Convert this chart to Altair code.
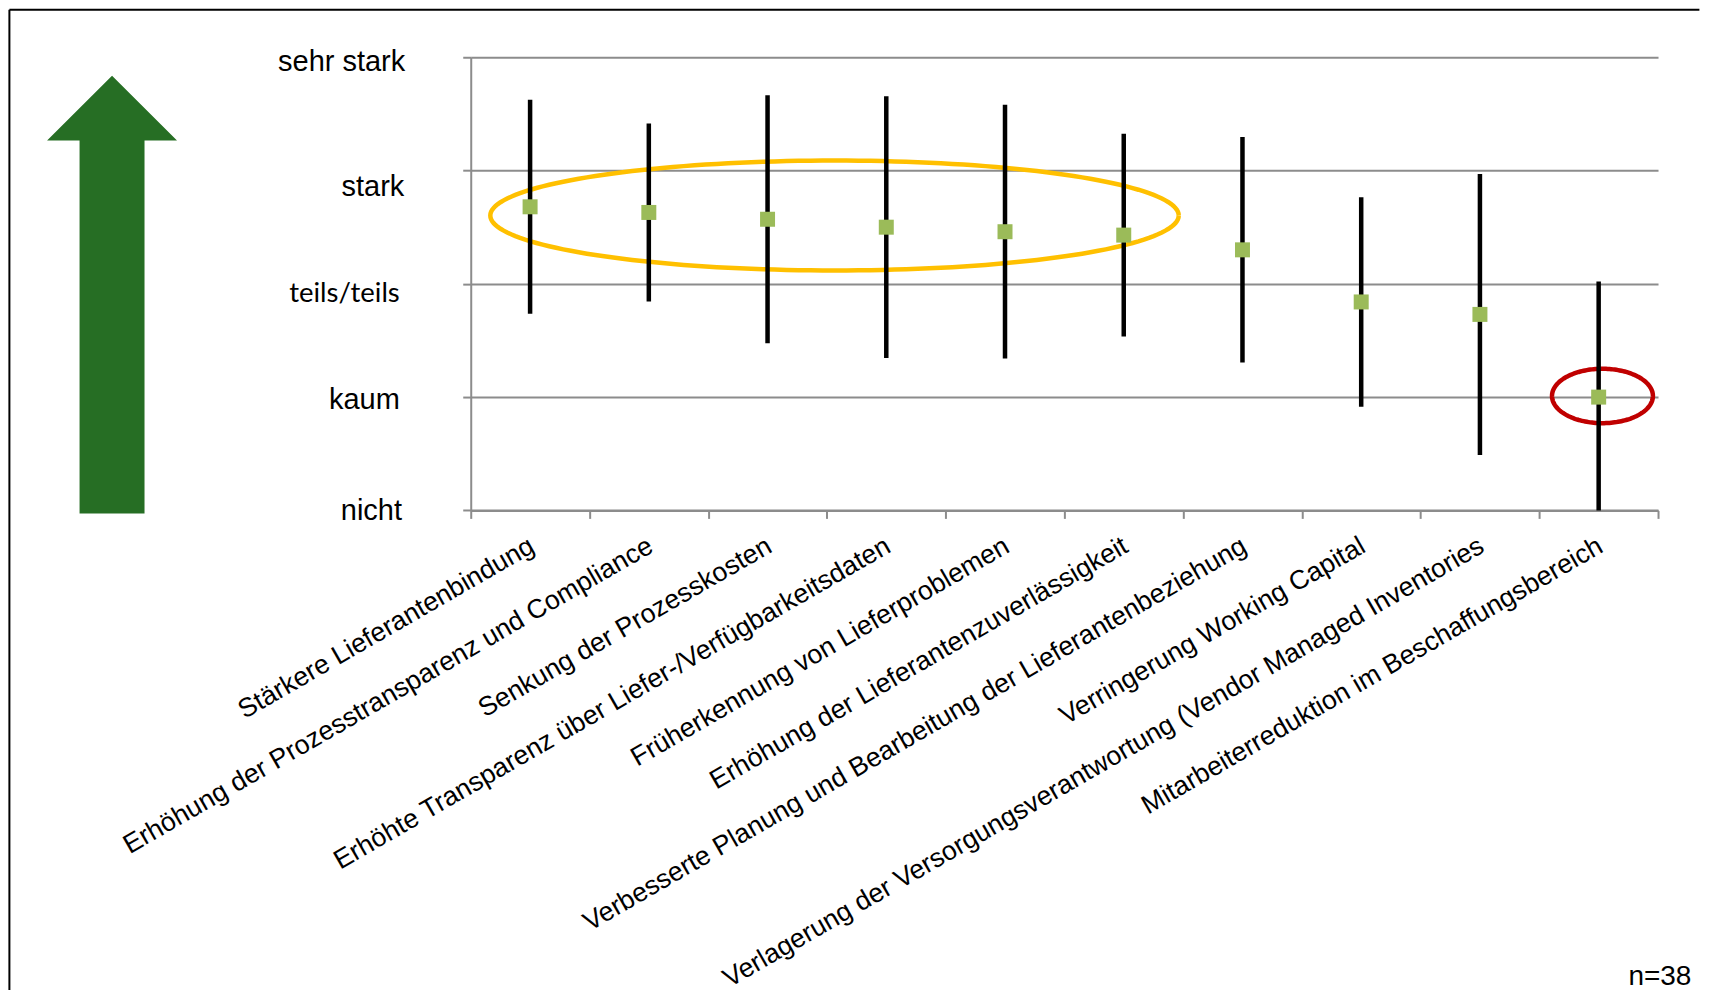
import altair as alt
import pandas as pd

# ---------------- data ----------------
categories = [
    "Stärkere Lieferantenbindung",
    "Erhöhung der Prozesstransparenz und Compliance",
    "Senkung der Prozesskosten",
    "Erhöhte Transparenz über Liefer-/Verfügbarkeitsdaten",
    "Früherkennung von Lieferproblemen",
    "Erhöhung der Lieferantenzuverlässigkeit",
    "Verbesserte Planung und Bearbeitung der Lieferantenbeziehung",
    "Verringerung Working Capital",
    "Verlagerung der Versorgungsverantwortung (Vendor Managed Inventories",
    "Mitarbeiterreduktion im Beschaffungsbereich",
]
means = [3.68, 3.63, 3.57, 3.50, 3.46, 3.43, 3.30, 2.84, 2.73, 2.00]
sds = [0.945, 0.785, 1.095, 1.155, 1.12, 0.895, 0.995, 0.925, 1.24, 1.02]

level_values = [1, 2, 3, 4, 5]
level_labels = ["nicht", "kaum", "teils/teils", "stark", "sehr stark"]
sample_note = "n=38"

df = pd.DataFrame({"kategorie": categories, "mittel": means, "sd": sds})
df["unten"] = df["mittel"] - df["sd"]
df["oben"] = df["mittel"] + df["sd"]

# annotation ellipses (in band units / scale values)
ellipses = [
    dict(cx=3.064, cy=3.603, rx=2.899, ry=0.485, color="#FFC000"),
    dict(cx=9.532, cy=2.01, rx=0.425, ry=0.24, color="#C00000"),
]

# ---------------- layout ----------------
W, H = 1188, 453.4
GRID = "#8C8C8C"
FONT = "Liberation Sans"

label_js = "[''," + ",".join("'%s'" % s for s in level_labels) + "][datum.value]"

y_scale = alt.Scale(domain=[1, 5], nice=False, zero=False, clamp=True)

x_enc = alt.X(
    "kategorie:N",
    sort=categories,
    scale=alt.Scale(type="band", paddingInner=0, paddingOuter=0),
    axis=alt.Axis(
        title=None,
        tickBand="extent",
        ticks=True,
        tickSize=8,
        tickColor=GRID,
        tickWidth=2,
        domainColor=GRID,
        domainWidth=2,
        labelAngle=-30,
        labelFont=FONT,
        labelFontSize=26.7,
        labelColor="black",
        labelLimit=1000,
        labelOverlap=False,
        labelPadding=14,
        labelOffset=-5,
        grid=False,
    ),
)

y_axis = alt.Axis(
    title=None,
    values=level_values,
    labelExpr=label_js,
    grid=True,
    gridColor=GRID,
    gridWidth=2,
    domainColor=GRID,
    domainWidth=2,
    tickColor=GRID,
    tickWidth=2,
    tickSize=8,
    labelColor="black",
    labelFont={"condition": {"test": "datum.value == 3", "value": "Lato"}, "value": FONT},
    labelFontSize={"condition": {"test": "datum.value == 3", "value": 27.5}, "value": 29},
    labelPadding={
        "condition": [
            {"test": "datum.value == 5", "value": 58},
            {"test": "datum.value == 4", "value": 59},
            {"test": "datum.value == 3", "value": 63.5},
            {"test": "datum.value == 2", "value": 63.5},
        ],
        "value": 61.3,
    },
    labelOffset={
        "condition": [
            {"test": "datum.value == 5", "value": 4},
            {"test": "datum.value == 4", "value": 16},
            {"test": "datum.value == 3", "value": 10},
            {"test": "datum.value == 2", "value": 2},
        ],
        "value": 0,
    },
)

base = alt.Chart(df)

bars = base.mark_rule(color="black", strokeWidth=4.5).encode(
    x=x_enc,
    y=alt.Y("unten:Q", scale=y_scale, axis=y_axis),
    y2="oben:Q",
)

points = base.mark_square(color="#9BBB59", size=225, opacity=1).encode(
    x=alt.X("kategorie:N", sort=categories),
    y=alt.Y("mittel:Q", scale=y_scale),
)

ell_layers = []
for e in ellipses:
    ell_layers.append(
        alt.Chart(alt.sequence(0, 362, 2, as_="t"))
        .transform_calculate(
            ex="%f + %f * cos(datum.t * PI / 180)" % (e["cx"], e["rx"]),
            ey="%f + %f * sin(datum.t * PI / 180)" % (e["cy"], e["ry"]),
        )
        .mark_line(color=e["color"], strokeWidth=4.5)
        .encode(
            x=alt.X("ex:Q", scale=alt.Scale(domain=[0, 10], nice=False, zero=False), axis=None),
            y=alt.Y("ey:Q", scale=y_scale, axis=None),
            order="t:Q",
        )
    )

one = alt.Chart(pd.DataFrame({"a": [0]}))

# frame (left and top edges of the picture border)
frame_v = one.mark_rule(color="black", strokeWidth=2).encode(
    x=alt.value(-461.6), y=alt.value(-47.6), y2=alt.value(933.4)
)
frame_h = one.mark_rule(color="black", strokeWidth=2).encode(
    x=alt.value(-461.6), x2=alt.value(1229.4), y=alt.value(-47.6)
)

arrow_path = "M 0 -2.19 L 0.65 -1.54 L 0.325 -1.54 L 0.325 2.19 L -0.325 2.19 L -0.325 -1.54 L -0.65 -1.54 Z"
arrow = one.mark_point(
    shape=arrow_path, filled=True, fill="#266E24", color="#266E24", opacity=1, size=40000, strokeWidth=0
).encode(x=alt.value(-358.9), y=alt.value(237.4))

note = one.mark_text(
    text=sample_note, font=FONT, fontSize=28, align="right", baseline="middle", color="black"
).encode(x=alt.value(1221.4), y=alt.value(920.4))

main = alt.layer(bars, points)
ell = alt.layer(*ell_layers)

chart = (
    alt.layer(frame_v, frame_h, arrow, note, ell, main)
    .resolve_scale(x="independent")
    .resolve_axis(y="independent")
    .properties(width=W, height=H, padding=0, background="white")
    .configure_view(stroke=None)
)

chart.save("out.html", embed_options={"renderer": "svg", "actions": False})
